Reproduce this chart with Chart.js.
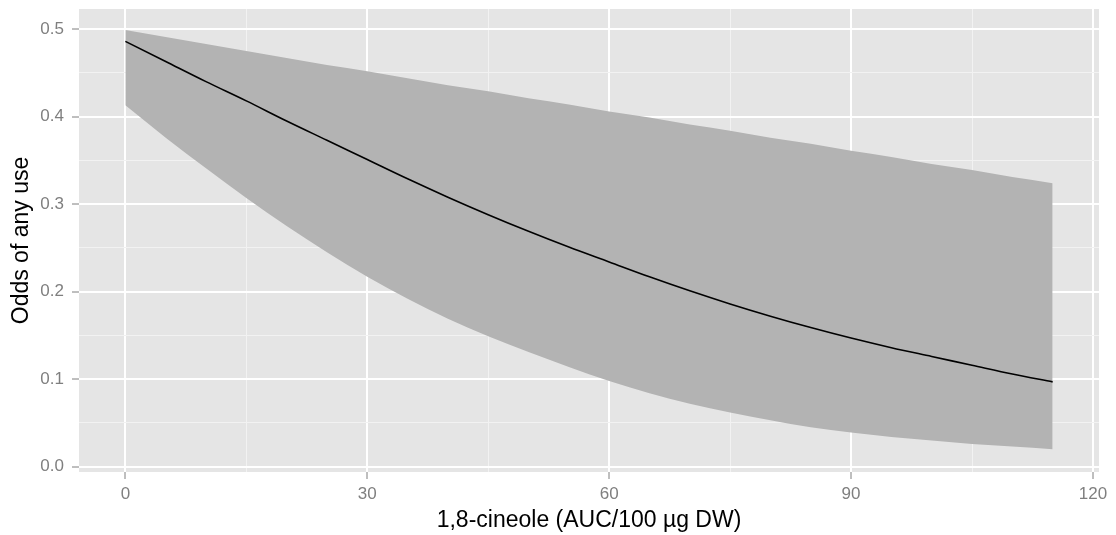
<!DOCTYPE html>
<html>
<head>
<meta charset="utf-8">
<script src="https://cdn.jsdelivr.net/npm/chart.js@4"></script>
<style>
  body { margin: 0; background: #ffffff; }
  #wrap { width: 1116px; height: 535px; position: relative; }
</style>
</head>
<body>
<div id="wrap"><canvas id="oddsChart"></canvas></div>
<script>
// Values
const cineole = [0, 5, 10, 15, 20, 25, 30, 35, 40, 45, 50, 55, 60, 65, 70, 75, 80, 85, 90, 95, 100, 105, 110, 115];
const fitOdds = [0.486, 0.463, 0.440, 0.418, 0.395, 0.373, 0.351, 0.329, 0.308, 0.288, 0.269, 0.251, 0.234, 0.217, 0.201, 0.186, 0.172, 0.159, 0.147, 0.136, 0.126, 0.116, 0.106, 0.097];
const upperCI = [0.499, 0.491, 0.483, 0.475, 0.467, 0.459, 0.452, 0.444, 0.436, 0.429, 0.421, 0.414, 0.406, 0.399, 0.391, 0.384, 0.376, 0.369, 0.361, 0.354, 0.346, 0.339, 0.331, 0.324];
const lowerCI = [0.413, 0.376, 0.341, 0.307, 0.275, 0.245, 0.217, 0.192, 0.169, 0.149, 0.131, 0.114, 0.098, 0.084, 0.072, 0.062, 0.053, 0.045, 0.039, 0.034, 0.030, 0.026, 0.023, 0.020];

// Tick positions
const xMajor = [0, 30, 60, 90, 120];
const xMinor = [15, 45, 75, 105];
const yMajor = [0.0, 0.1, 0.2, 0.3, 0.4, 0.5];
const yMinor = [0.05, 0.15, 0.25, 0.35, 0.45];

const toPoints = (ys) => cineole.map((x, i) => ({ x: x, y: ys[i] }));

const isMajor = (list, v) => list.some((m) => Math.abs(m - v) < 1e-9);

// grey panel behind everything
const panelBg = {
  id: "panelBg",
  beforeDraw(chart) {
    const { ctx, chartArea } = chart;
    ctx.save();
    ctx.fillStyle = "#e5e5e5";
    ctx.fillRect(chartArea.left, chartArea.top, chartArea.right - chartArea.left, chartArea.bottom - chartArea.top);
    ctx.restore();
  },
};

Chart.defaults.font.family = "'Liberation Sans', Arial, sans-serif";
Chart.defaults.animation = false;

function gridOpts(majors) {
  return {
    color: (c) => (isMajor(majors, c.tick.value) ? "#ffffff" : "#f2f2f2"),
    lineWidth: (c) => (isMajor(majors, c.tick.value) ? 2 : 1),
    tickColor: (c) => (isMajor(majors, c.tick.value) ? "#7f7f7f" : "rgba(0,0,0,0)"),
    tickWidth: 1,
    tickLength: 7,
    drawTicks: true,
  };
}

// fixed axis sizes, no extra label padding
function fixSize(scale, w, h) {
  if (w !== null) scale.width = w;
  if (h !== null) scale.height = h;
  scale.paddingTop = 0;
  scale.paddingBottom = 0;
  scale.paddingLeft = 0;
  scale.paddingRight = 0;
}

const ctx = document.getElementById("oddsChart").getContext("2d");
new Chart(ctx, {
  type: "line",
  data: {
    datasets: [
      {
        label: "fit",
        data: toPoints(fitOdds),
        borderColor: "#000000",
        borderWidth: 1.6,
        pointRadius: 0,
        fill: false,
        cubicInterpolationMode: "monotone",
        order: 0,
      },
      {
        label: "upper",
        data: toPoints(upperCI),
        borderWidth: 0,
        borderColor: "rgba(0,0,0,0)",
        backgroundColor: "#b3b3b3",
        pointRadius: 0,
        fill: "+1",
        cubicInterpolationMode: "monotone",
        order: 1,
      },
      {
        label: "lower",
        data: toPoints(lowerCI),
        borderWidth: 0,
        borderColor: "rgba(0,0,0,0)",
        pointRadius: 0,
        fill: false,
        cubicInterpolationMode: "monotone",
        order: 2,
      },
    ],
  },
  options: {
    responsive: true,
    maintainAspectRatio: false,
    layout: { padding: { top: 9, right: 17, left: 0, bottom: 0 } },
    plugins: {
      legend: { display: false },
      tooltip: { enabled: false },
    },
    scales: {
      x: {
        type: "linear",
        min: -5.75,
        max: 120.75,
        border: { display: false },
        grid: gridOpts(xMajor),
        afterBuildTicks: (scale) => {
          scale.ticks = xMajor.concat(xMinor).sort((a, b) => a - b).map((v) => ({ value: v }));
        },
        afterFit: (scale) => fixSize(scale, null, 63),
        ticks: {
          color: "#7f7f7f",
          font: { size: 17 },
          padding: 5,
          maxRotation: 0,
          autoSkip: false,
          callback: (v) => (isMajor(xMajor, v) ? String(v) : ""),
        },
        title: {
          display: true,
          text: "1,8-cineole (AUC/100 µg DW)",
          color: "#000000",
          font: { size: 23 },
          padding: { top: 0, bottom: 1 },
        },
      },
      y: {
        type: "linear",
        min: -0.006,
        max: 0.523,
        border: { display: false },
        grid: gridOpts(yMajor),
        afterBuildTicks: (scale) => {
          scale.ticks = yMajor.concat(yMinor).sort((a, b) => a - b).map((v) => ({ value: v }));
        },
        afterFit: (scale) => fixSize(scale, 79, null),
        ticks: {
          color: "#7f7f7f",
          font: { size: 17 },
          padding: 8,
          autoSkip: false,
          callback: (v) => (isMajor(yMajor, v) ? v.toFixed(1) : ""),
        },
        title: {
          display: true,
          text: "Odds of any use",
          color: "#000000",
          font: { size: 23 },
          padding: { top: 8, bottom: 0 },
        },
      },
    },
  },
  plugins: [panelBg],
});
</script>
</body>
</html>
